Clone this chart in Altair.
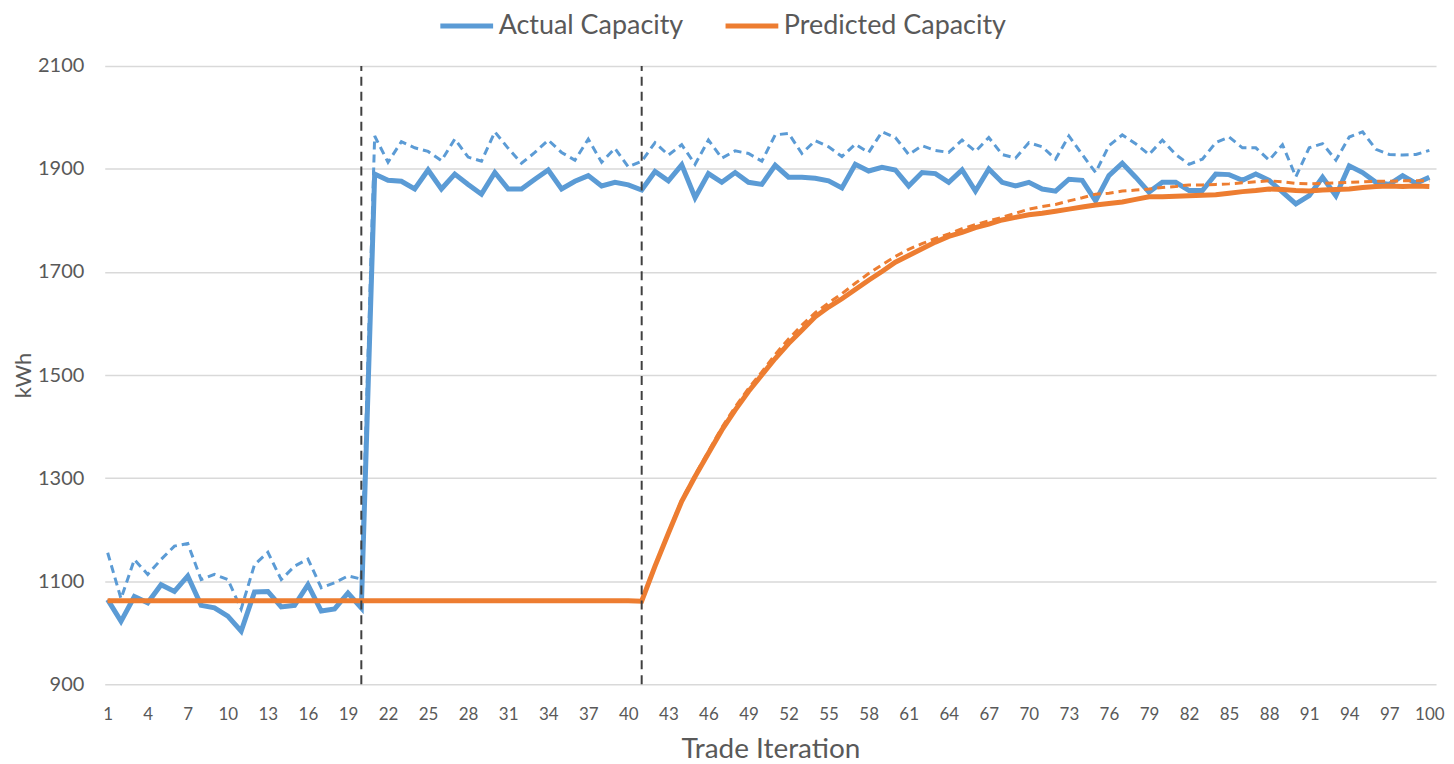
import altair as alt
import pandas as pd

iterations = list(range(1, 101))

actual_solid = [1064, 1022, 1070, 1058, 1093, 1080, 1110, 1053, 1048, 1032,
                1003, 1079, 1080, 1050, 1053, 1093, 1042, 1046, 1077, 1048,
                1890, 1878, 1876, 1861, 1898, 1861, 1890, 1870, 1851, 1893,
                1861, 1861, 1880, 1898, 1861, 1876, 1887, 1867, 1874, 1869,
                1859, 1895, 1877, 1908, 1844, 1891, 1874, 1893, 1874, 1870,
                1907, 1884, 1884, 1882, 1877, 1863, 1909, 1896, 1903, 1898,
                1867, 1893, 1891, 1874, 1898, 1857, 1900, 1874, 1867, 1874,
                1861, 1857, 1880, 1878, 1838, 1887, 1911, 1884, 1855, 1874,
                1874, 1858, 1858, 1890, 1889, 1878, 1890, 1878, 1855, 1832,
                1848, 1884, 1848, 1906, 1893, 1874, 1870, 1887, 1872, 1884]

actual_dashed = [1155, 1066, 1142, 1113, 1142, 1168, 1173, 1103, 1113, 1103,
                 1046, 1132, 1156, 1103, 1129, 1143, 1087, 1097, 1110, 1104,
                 1964, 1913, 1953, 1941, 1934, 1916, 1958, 1923, 1915, 1972,
                 1940, 1911, 1932, 1956, 1932, 1917, 1958, 1913, 1940, 1904,
                 1915, 1951, 1927, 1947, 1909, 1956, 1921, 1935, 1930, 1915,
                 1966, 1969, 1930, 1955, 1943, 1924, 1948, 1932, 1972, 1961,
                 1928, 1945, 1936, 1932, 1956, 1934, 1961, 1928, 1921, 1951,
                 1943, 1919, 1964, 1928, 1893, 1945, 1966, 1949, 1928, 1956,
                 1928, 1909, 1919, 1951, 1962, 1941, 1941, 1917, 1947, 1885,
                 1941, 1949, 1917, 1962, 1972, 1938, 1928, 1927, 1928, 1936]

predicted_solid = [1062] * 40 + [
    1061, 1129, 1193, 1255, 1303, 1348, 1393, 1432, 1468, 1500,
    1532, 1561, 1587, 1613, 1632, 1648, 1666, 1684, 1701, 1719,
    1732, 1745, 1758, 1769, 1777, 1786, 1793, 1801, 1806, 1811,
    1814, 1818, 1822, 1826, 1830, 1833, 1836, 1841, 1846, 1846,
    1847, 1848, 1849, 1850, 1853, 1856, 1858, 1861, 1860, 1858,
    1857, 1859, 1860, 1861, 1864, 1866, 1867, 1866, 1867, 1866]

predicted_dashed = [1062] * 40 + [
    1061, 1130, 1195, 1258, 1306, 1352, 1398, 1438, 1474, 1506,
    1540, 1570, 1597, 1621, 1640, 1658, 1678, 1697, 1714, 1730,
    1744, 1755, 1765, 1774, 1784, 1792, 1799, 1806, 1814, 1822,
    1827, 1831, 1838, 1844, 1851, 1853, 1857, 1859, 1861, 1864,
    1866, 1869, 1869, 1870, 1871, 1873, 1875, 1877, 1875, 1872,
    1871, 1872, 1873, 1874, 1875, 1876, 1876, 1877, 1877, 1877]

phase_marks = [20, 41]
x_tick_values = list(range(1, 101, 3)) + [100]
y_tick_values = [900, 1100, 1300, 1500, 1700, 1900, 2100]

groups = ["Actual Capacity", "Predicted Capacity"]
colors = ["#5B9BD5", "#ED7D31"]
FONT = "Lato, sans-serif"


def frame(values, group):
    return pd.DataFrame({"iter": iterations, "value": values, "group": group})


x_enc = alt.X("iter:Q",
              scale=alt.Scale(domain=[0.78, 100.5], nice=False, zero=False),
              axis=alt.Axis(values=x_tick_values, title="Trade Iteration",
                            format="d", grid=False, ticks=False, domain=False,
                            labelFontSize=17, labelPadding=22,
                            labelOverlap=False, labelFlush=False,
                            titleFontSize=28, titlePadding=14))
y_enc = alt.Y("value:Q",
              scale=alt.Scale(domain=[900, 2100], nice=False, zero=False),
              axis=alt.Axis(values=y_tick_values, title="kWh", format="d",
                            grid=True, ticks=False, domain=False,
                            labelFontSize=20, labelPadding=21,
                            titleFontSize=22, titlePadding=2))
color_enc = alt.Color("group:N",
                      scale=alt.Scale(domain=groups, range=colors),
                      legend=alt.Legend(title=None, orient="none",
                                        legendX=334, legendY=-69,
                                        direction="horizontal",
                                        symbolType="stroke",
                                        symbolSize=2800,
                                        symbolStrokeWidth=5,
                                        labelFontSize=27,
                                        labelOffset=3,
                                        columnPadding=31,
                                        labelLimit=400))


def layer(df, width, dash=None):
    kw = {"strokeWidth": width, "clip": True}
    if dash is not None:
        kw["strokeDash"] = dash
    return alt.Chart(df).mark_line(**kw).encode(x=x_enc, y=y_enc, color=color_enc)


actual_line = layer(frame(actual_solid, groups[0]), 5)
actual_dash = layer(frame(actual_dashed, groups[0]), 3, [8, 5])
pred_line = layer(frame(predicted_solid, groups[1]), 5)
pred_dash = layer(frame(predicted_dashed, groups[1]), 3, [8, 5])

rules = alt.Chart(pd.DataFrame({"iter": phase_marks})).mark_rule(
    color="#404040", strokeWidth=2, strokeDash=[9, 6]
).encode(x=x_enc, y=alt.datum(900), y2=alt.datum(2100))

chart = alt.layer(actual_line, actual_dash, pred_line, pred_dash, rules).properties(
    width=1335, height=620,
    autosize=alt.AutoSizeParams(type="none"),
    padding={"left": 97, "top": 57, "right": 10, "bottom": 79},
).configure_view(stroke=None).configure_axis(
    labelColor="#595959", titleColor="#595959",
    labelFont=FONT, titleFont=FONT, titleFontWeight="normal",
    gridColor="#D9D9D9", gridWidth=1.5,
).configure_axisX(labelOverlap=False).configure_legend(
    labelFont=FONT, labelColor="#595959")

chart.save("out.html", embed_options={"renderer": "svg", "actions": False})
